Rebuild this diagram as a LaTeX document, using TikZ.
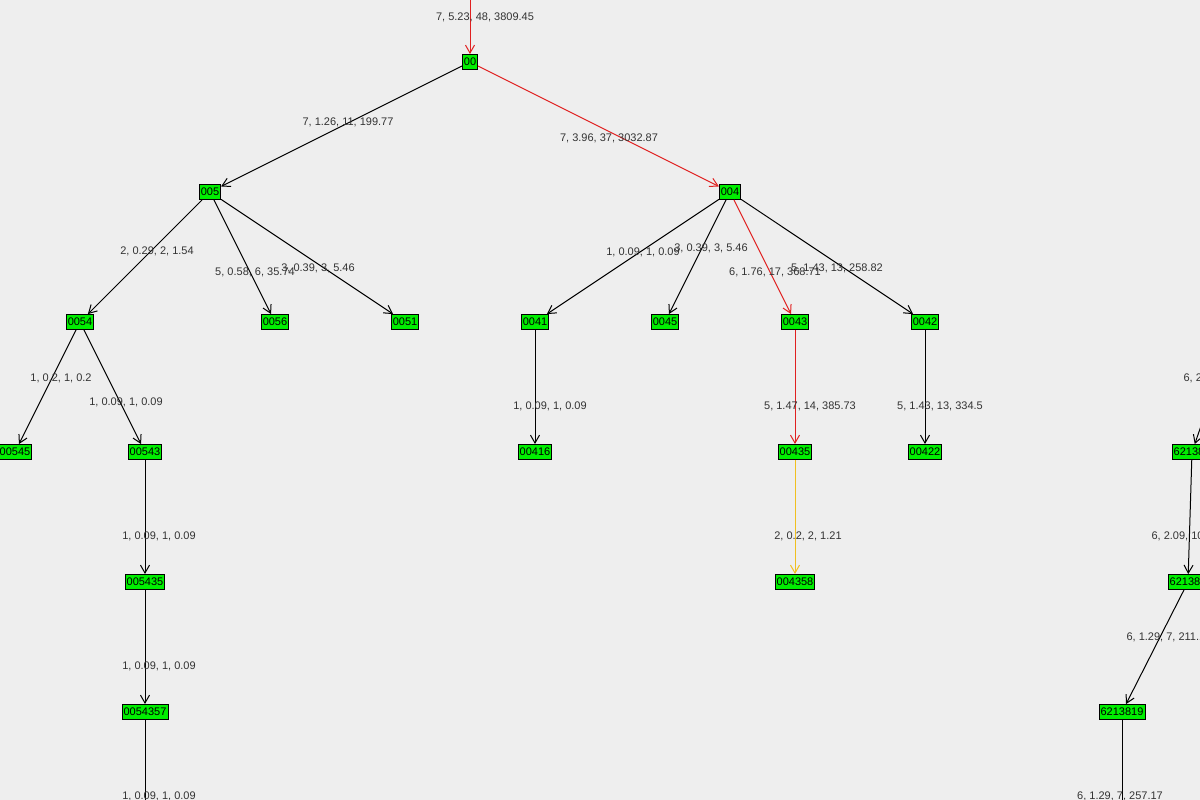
\documentclass[tikz,border=0pt]{standalone}
\usepackage{fontspec}
\setmainfont{Liberation Sans}
\usetikzlibrary{arrows.meta}
\definecolor{bg}{HTML}{EEEEEE}
\definecolor{ngreen}{HTML}{00EE00}
\definecolor{ered}{HTML}{E02020}
\definecolor{eyel}{HTML}{F0C020}
\tikzset{
  nd/.style={draw=black,fill=ngreen,inner sep=1.5pt,font=\fontsize{11}{12}\selectfont,minimum height=15pt,line width=0.8pt},
  lb/.style={font=\fontsize{11}{12}\selectfont,text=black!80},
  ed/.style={-{Straight Barb[length=8pt,width=9pt]},line width=1pt},
}
\begin{document}
\begin{tikzpicture}[x=1pt,y=-1pt]
\fill[bg] (0,0) rectangle (1200,800);
\useasboundingbox (0,0) rectangle (1200,800);
\clip (0,0) rectangle (1200,800);
\node[nd] (n00) at (470,62) {00};
\node[nd] (n005) at (210,192) {005};
\node[nd] (n004) at (730,192) {004};
\node[nd] (n0054) at (80,322) {0054};
\node[nd] (n0056) at (275,322) {0056};
\node[nd] (n0051) at (405,322) {0051};
\node[nd] (n0041) at (535,322) {0041};
\node[nd] (n0045) at (665,322) {0045};
\node[nd] (n0043) at (795,322) {0043};
\node[nd] (n0042) at (925,322) {0042};
\node[nd] (n00545) at (15,452) {00545};
\node[nd] (n00543) at (145,452) {00543};
\node[nd] (n00416) at (535,452) {00416};
\node[nd] (n00435) at (795,452) {00435};
\node[nd] (n00422) at (925,452) {00422};
\node[nd] (n005435) at (145,582) {005435};
\node[nd] (n004358) at (795,582) {004358};
\node[nd] (n0054357) at (145,712) {0054357};
\node[nd] (r1) at (1192,452) {621385};
\node[nd] (r2) at (1188,582) {621381};
\node[nd] (r3) at (1122,712) {6213819};
\coordinate (top) at (470,0);
\coordinate (bot1) at (145,800);
\coordinate (bot2) at (1122,800);
\coordinate (rin) at (1210,400);
\draw[ed,ered] (top) -- (n00);
\draw[ed,ered] (n00) -- (n004);
\draw[ed] (n00) -- (n005);
\draw[ed] (n005) -- (n0054);
\draw[ed] (n005) -- (n0056);
\draw[ed] (n005) -- (n0051);
\draw[ed] (n004) -- (n0041);
\draw[ed] (n004) -- (n0045);
\draw[ed,ered] (n004) -- (n0043);
\draw[ed] (n004) -- (n0042);
\draw[ed] (n0054) -- (n00545);
\draw[ed] (n0054) -- (n00543);
\draw[ed] (n0041) -- (n00416);
\draw[ed,ered] (n0043) -- (n00435);
\draw[ed] (n0042) -- (n00422);
\draw[ed] (n00543) -- (n005435);
\draw[ed,eyel] (n00435) -- (n004358);
\draw[ed] (n005435) -- (n0054357);
\draw[line width=1pt] (n0054357) -- (bot1);
\draw[ed] (rin) -- (r1);
\draw[ed] (r1) -- (r2);
\draw[ed] (r2) -- (r3);
\draw[line width=1pt] (r3) -- (bot2);
\node[lb] at (485,17) {7, 5.23, 48, 3809.45};
\node[lb] at (348,122) {7, 1.26, 11, 199.77};
\node[lb] at (609,138) {7, 3.96, 37, 3032.87};
\node[lb] at (157,251) {2, 0.29, 2, 1.54};
\node[lb] at (255,272) {5, 0.58, 6, 35.74};
\node[lb] at (318,268) {3, 0.39, 3, 5.46};
\node[lb] at (643,252) {1, 0.09, 1, 0.09};
\node[lb] at (711,248) {3, 0.39, 3, 5.46};
\node[lb] at (775,272) {6, 1.76, 17, 368.71};
\node[lb] at (837,268) {5, 1.43, 13, 258.82};
\node[lb] at (61,378) {1, 0.2, 1, 0.2};
\node[lb] at (126,402) {1, 0.09, 1, 0.09};
\node[lb] at (550,406) {1, 0.09, 1, 0.09};
\node[lb] at (810,406) {5, 1.47, 14, 385.73};
\node[lb] at (940,406) {5, 1.43, 13, 334.5};
\node[lb] at (159,536) {1, 0.09, 1, 0.09};
\node[lb] at (808,536) {2, 0.2, 2, 1.21};
\node[lb] at (159,666) {1, 0.09, 1, 0.09};
\node[lb] at (159,796) {1, 0.09, 1, 0.09};
\node[lb,anchor=west] at (1180,378) {6, 2.57, 12};
\node[lb,anchor=west] at (1148,536) {6, 2.09, 10, 1};
\node[lb,anchor=west] at (1123,637) {6, 1.29, 7, 211.1};
\node[lb] at (1120,796) {6, 1.29, 7, 257.17};
\end{tikzpicture}
\end{document}
